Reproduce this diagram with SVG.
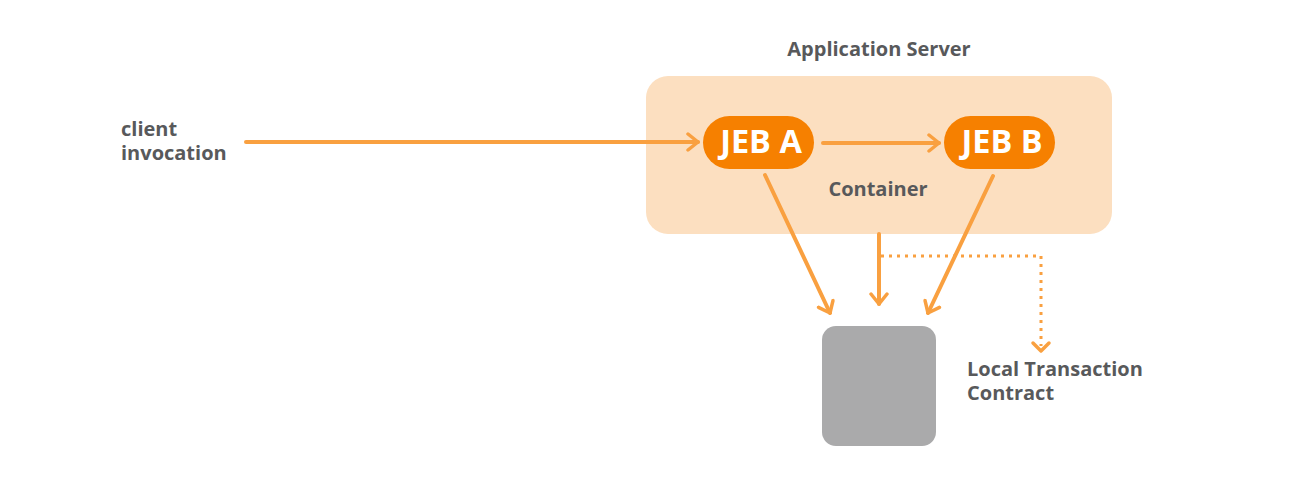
<svg xmlns="http://www.w3.org/2000/svg" width="1297" height="481" viewBox="0 0 1297 481">
<style>
.lbl{font-family:"Open Sans","Liberation Sans",sans-serif;font-weight:700;font-size:20px;fill:#58595b}
.jeb{font-family:"Open Sans","Liberation Sans",sans-serif;font-weight:700;font-size:32.5px;fill:#ffffff;text-anchor:middle}
.ln{stroke:#f9a040;stroke-width:4;fill:none;stroke-linecap:round}
.dot{stroke:#f9a040;stroke-width:3;fill:none;stroke-dasharray:3 5}
</style>
<defs>
<marker id="ah" viewBox="0 0 14 20" refX="12" refY="10" markerWidth="14" markerHeight="20" markerUnits="userSpaceOnUse" orient="auto">
<path d="M2,2 L12,10 L2,18" fill="none" stroke="#f9a040" stroke-width="3.5" stroke-linecap="round" stroke-linejoin="round"/>
</marker>
</defs>
<g id="server">
<rect x="646" y="76" width="466" height="158" rx="22" fill="#fcdfc0"/>
<text class="lbl" x="879" y="56" text-anchor="middle">Application Server</text>
<text class="lbl" x="878" y="196" text-anchor="middle">Container</text>
</g>
<g id="jebA">
<rect x="703" y="116" width="111" height="53" rx="26.5" fill="#f68000"/>
<text class="jeb" x="761" y="153">JEB A</text>
</g>
<g id="jebB">
<rect x="944" y="116" width="111" height="53" rx="26.5" fill="#f68000"/>
<text class="jeb" x="1002" y="153">JEB B</text>
</g>
<g id="client">
<text class="lbl" x="121" y="136">client</text>
<text class="lbl" x="121" y="160">invocation</text>
</g>
<g id="resource">
<rect x="822" y="326" width="114" height="120" rx="14" fill="#aaaaab"/>
</g>
<g id="contract">
<text class="lbl" x="967" y="376">Local Transaction</text>
<text class="lbl" x="967" y="400">Contract</text>
</g>
<g id="connectors">
<line class="ln" x1="246" y1="142" x2="698" y2="142" marker-end="url(#ah)"/>
<line class="ln" x1="823" y1="143" x2="939" y2="143" marker-end="url(#ah)"/>
<line class="ln" x1="765" y1="175" x2="830" y2="313" marker-end="url(#ah)"/>
<line class="ln" x1="993" y1="176" x2="928" y2="313" marker-end="url(#ah)"/>
<line class="ln" x1="879" y1="234" x2="879" y2="304" marker-end="url(#ah)"/>
<path class="dot" d="M881,256 H1041 V346"/>
<path d="M1033,343 L1041,351 L1049,343" fill="none" stroke="#f9a040" stroke-width="3.5" stroke-linecap="round" stroke-linejoin="round"/>
</g>
</svg>
